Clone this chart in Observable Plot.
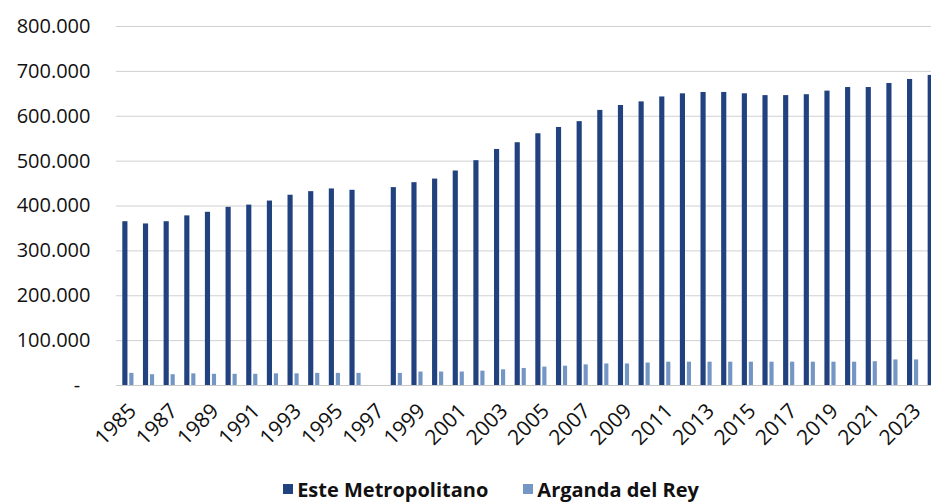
<!DOCTYPE html>
<html>
<head>
<meta charset="utf-8">
<script src="https://cdn.jsdelivr.net/npm/d3@7"></script>
<script src="https://cdn.jsdelivr.net/npm/@observablehq/plot@0.6"></script>
<style>
  html, body { margin: 0; padding: 0; background: #fff; }
  #chart { width: 931px; }
  .legend { display: flex; justify-content: center; align-items: center; gap: 35px;
    font: bold 20px "Open Sans", sans-serif; color: #111; height: 34px; padding-left: 51px; padding-top: 4px; box-sizing: content-box; }
  .legend span.sw { display: inline-block; width: 10px; height: 10px; margin-right: 4px; }
  .legend .item { display: flex; align-items: center; }
</style>
</head>
<body>
<div id="chart"></div>
<script>
const years = d3.range(1985, 2025).map(String);
const seriesNames = ["Este Metropolitano", "Arganda del Rey"];
const esteMetropolitano = [
  365000, 360000, 365000, 378000, 386000, 397000, 402000, 411000, 424000, 432000, 438000, 435000,
  null,
  441000, 452000, 460000, 478000, 501000, 526000, 541000, 561000, 575000, 588000, 613000, 624000,
  632000, 643000, 650000, 653000, 653000, 650000, 646000, 646000, 648000, 656000, 664000, 664000,
  673000, 682000, 691000
];
const argandaDelRey = [
  27000, 24000, 24000, 26000, 25000, 25000, 25000, 26000, 26000, 27000, 27000, 27000,
  null,
  27000, 30000, 30000, 30000, 32000, 35000, 38000, 41000, 43000, 46000, 48000, 48000,
  50000, 52000, 52000, 52000, 52000, 52000, 52000, 52000, 52000, 52000, 52000, 53000,
  57000, 57000, 58000
];
const yTicks = [0, 100000, 200000, 300000, 400000, 500000, 600000, 700000, 800000];
const xTickLabels = years.filter((d, i) => i % 2 === 0);
const colors = ["#22427f", "#7496c4"];

const rows = [];
years.forEach((y, i) => {
  if (esteMetropolitano[i] != null) rows.push({year: y, series: seriesNames[0], value: esteMetropolitano[i]});
  if (argandaDelRey[i] != null) rows.push({year: y, series: seriesNames[1], value: argandaDelRey[i]});
});

const fmt = d => d === 0 ? "-\u00a0\u00a0" : d3.format(",")(d).replace(/,/g, ".");

const chart = Plot.plot({
  width: 931,
  height: 468,
  marginLeft: 116,
  marginRight: 0,
  marginTop: 26,
  marginBottom: 83,
  style: {fontFamily: "Open Sans, sans-serif", fontSize: "20px", color: "#111", background: "#fff"},
  x: {type: "band", domain: years, range: [117.8, 943.8], padding: 0, round: false, label: null},
  y: {domain: [0, 800000], range: [385, 26], label: null},
  marks: [
    Plot.gridY(yTicks, {stroke: "#d0d0d0", strokeOpacity: 1}),
    Plot.axisY(yTicks, {tickSize: 0, tickPadding: 26, tickFormat: fmt, fontSize: 20, label: null}),
    Plot.barY(rows.filter(d => d.series === seriesNames[0]), {x: "year", y: "value", fill: colors[0], insetLeft: 4.5, insetRight: 11}),
    Plot.barY(rows.filter(d => d.series === seriesNames[1]), {x: "year", y: "value", fill: colors[1], insetLeft: 11.5, insetRight: 5}),
    Plot.ruleY([0], {stroke: "#c8c8c8"}),
    Plot.axisX(xTickLabels, {tickSize: 0, tickRotate: -45, tickPadding: 22, dx: 4, fontSize: 21, label: null})
  ]
});
document.getElementById("chart").appendChild(chart);

const legend = document.createElement("div");
legend.className = "legend";
seriesNames.forEach((name, i) => {
  const item = document.createElement("div");
  item.className = "item";
  const sw = document.createElement("span");
  sw.className = "sw";
  sw.style.background = colors[i];
  item.appendChild(sw);
  item.appendChild(document.createTextNode(name));
  legend.appendChild(item);
});
document.getElementById("chart").appendChild(legend);
</script>
</body>
</html>
